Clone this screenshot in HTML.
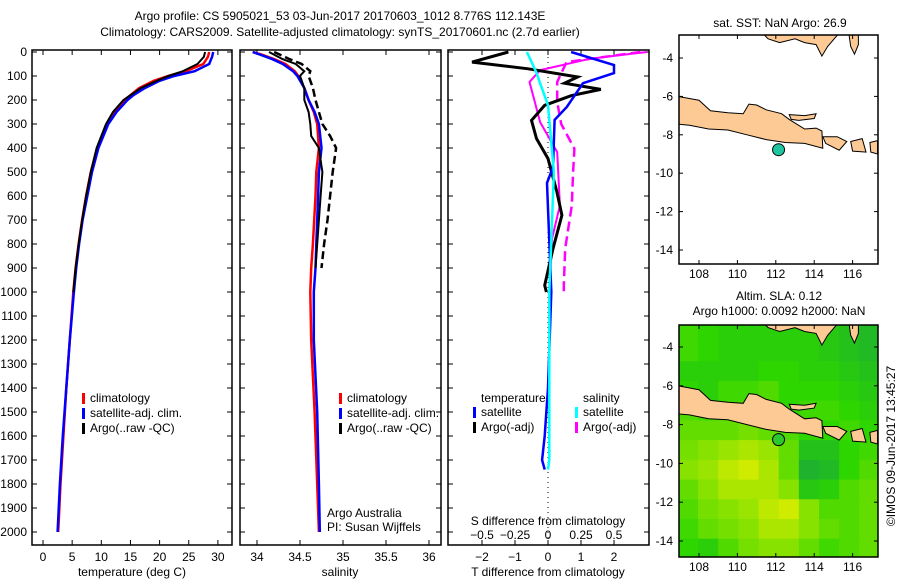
<!DOCTYPE html>
<html><head><meta charset="utf-8"><style>
body{margin:0;background:#fff;font-family:"Liberation Sans",sans-serif}
svg text{font-family:"Liberation Sans",sans-serif;font-size:12px;fill:#000}
</style></head><body>
<svg id="s" width="900" height="580" xmlns="http://www.w3.org/2000/svg">
<text x="340" y="20" text-anchor="middle">Argo profile: CS 5905021_53 03-Jun-2017 20170603_1012 8.776S 112.143E</text>
<text x="340" y="36" text-anchor="middle">Climatology: CARS2009. Satellite-adjusted climatology: synTS_20170601.nc (2.7d earlier)</text>
<g id="g"></g>
</svg>
<script>
// ---------- data ----------
const depthTicks=[0,100,200,300,400,500,600,700,800,900,1000,1100,1200,1300,1400,1500,1600,1700,1800,1900,2000];
const tempTicks=[0,5,10,15,20,25,30];
const salTicks=[34,34.5,35,35.5,36];
const tdiffTicks=[-2,-1,0,1,2];
const sdiffTicks=[-0.5,-0.25,0,0.25,0.5];
const tDepth=[0,20,50,80,100,120,150,180,200,250,300,400,500,600,700,800,900,1000,1200,1400,1600,1800,2000];
const tClim=[28.5,28.3,27.5,24.5,21.5,19,16.5,15,14,12.3,11,9.3,8.2,7.4,6.7,6.1,5.6,5.2,4.6,4,3.5,3,2.6];
const tSat=[29.2,29,28.5,26,22.5,20,17.5,15.5,14.5,12.6,11.2,9.5,8.4,7.6,6.8,6.2,5.7,5.3,4.6,4,3.4,2.9,2.5];
const tArgoDepth=[0,20,50,80,100,120,150,180,200,250,300,400,500,600,700,800,900,1000];
const tArgo=[27.8,27.6,26.5,24,21.5,19.5,16.8,15,13.8,12,10.8,9.2,8.2,7.4,6.7,6.1,5.6,5.2];
const sDepth=[0,10,30,50,80,100,150,200,250,300,400,500,600,800,900,1000,1200,1500,1800,2000];
const sClim=[33.95,34.05,34.2,34.33,34.44,34.48,34.55,34.6,34.66,34.7,34.72,34.69,34.68,34.65,34.63,34.62,34.63,34.67,34.7,34.72];
const sSat=[33.95,34.03,34.18,34.3,34.42,34.47,34.55,34.6,34.67,34.72,34.75,34.72,34.71,34.69,34.68,34.66,34.66,34.7,34.72,34.73];
const sArgoDepth=[0,30,50,80,100,150,200,250,300,350,400,450,500,600,700,800,900];
const sArgo=[34.14,34.3,34.45,34.55,34.5,34.55,34.55,34.6,34.62,34.63,34.72,34.74,34.76,34.74,34.72,34.7,34.68];
const sArgoRaw=[34.2,34.38,34.52,34.62,34.6,34.65,34.68,34.72,34.76,34.85,34.92,34.9,34.88,34.85,34.82,34.78,34.75];
const tsDepth=[0,54,88,130,229,283,479,546,1000,1400,1600,1700,1740];
const dTsat=[0.7,2.0,2.0,1.06,0.57,0.2,0.15,-0.03,0.1,0,-0.1,-0.18,-0.1];
const taDepth=[0,42,70,104,130,156,182,222,285,361,444,583,680,819,972,1000];
const dTargo=[-1.2,-2.3,-0.6,0.9,0.5,1.6,0.7,-0.1,-0.5,-0.35,0,0.27,0.42,0.15,-0.1,-0.05];
const csDepth=[0,83,222,500,1000,1400,1700,1740];
const dSsat=[-0.16,-0.09,0,0.045,0.01,0.01,0.01,0];
const saDepth=[0,28,76,125,208,292,417,639,778,917,1000];
const dSargo=[0.75,0.32,-0.06,-0.14,-0.1,-0.06,0.07,0.09,0.03,0.02,0.02];
const srDepth=[0,42,125,208,300,403,500,639,819,972,1000];
const dSargoRaw=[0.7,0.14,0.07,0.07,0.1,0.2,0.19,0.18,0.13,0.12,0.12];
const latTicks=[-4,-6,-8,-10,-12,-14];
const lonTicks=[108,110,112,114,116];
const argoLon=112.143, argoLat=-8.776;
const slaGrid=[
[0.1,0,-0.1,-0.1,-0.1,-0.1,-0.1,-0.2,-0.3,-0.4],
[0.1,0,-0.1,-0.1,-0.1,-0.1,-0.1,-0.2,-0.3,-0.4],
[-0.1,-0.1,-0.1,-0.1,0,0,-0.1,-0.1,-0.2,-0.3],
[0,-0.1,0.1,0.1,0.2,0,0,0,-0.1,-0.2],
[0.2,0.1,0.1,0.2,0.1,0,0.1,0.1,0,-0.1],
[0.3,0.3,0.3,0.4,0.3,0.2,0,0,0.1,0],
[0.4,0.5,0.6,0.7,0.6,0.3,-0.3,-0.3,0,0.1],
[0.5,0.6,0.8,0.9,0.7,0.3,-0.5,-0.4,0,0.2],
[0.3,0.5,0.7,0.7,0.7,0.5,-0.2,-0.1,0.2,0.3],
[0.2,0.4,0.5,0.6,0.8,0.9,0.5,0.2,0.2,0.3],
[0.1,0.3,0.4,0.5,0.7,0.7,0.5,0.3,0.2,0.3],
[0,-0.1,0.2,0.4,0.5,0.5,0.3,0.1,0.2,0.3]];
const java=[[106.9,-6.0],[108,-6.2],[108.6,-6.75],[109.5,-6.85],[110.3,-6.9],[110.6,-6.4],[111,-6.45],[111.5,-6.7],[112.3,-6.9],[112.7,-7.2],[113.5,-7.7],[114.1,-7.65],[114.4,-7.8],[114.45,-8.7],[113.5,-8.45],[112.5,-8.4],[111.5,-8.25],[110.5,-8.0],[109.5,-7.75],[108.5,-7.7],[107.5,-7.5],[106.9,-7.45]];
const madura=[[112.7,-6.95],[113.5,-7.0],[114.1,-6.9],[114.0,-7.15],[113.2,-7.25],[112.8,-7.2]];
const bali=[[114.45,-8.1],[115.2,-8.1],[115.7,-8.35],[115.3,-8.8],[114.6,-8.45]];
const lombok=[[115.9,-8.35],[116.5,-8.2],[116.7,-8.9],[116.0,-8.85]];
const sumbawa=[[116.9,-8.4],[117.3,-8.3],[117.3,-9.0],[116.95,-8.9]];
const borneo=[[111.3,-2.7],[111.6,-3.0],[112.2,-3.2],[113,-3.0],[113.5,-3.2],[114.1,-3.3],[114.4,-3.9],[114.7,-3.4],[115.3,-2.7]];
const borneo2=[[115.8,-2.7],[115.9,-3.4],[116.1,-3.8],[116.3,-3.3],[116.3,-2.7]];

// ---------- helpers ----------
const NS='http://www.w3.org/2000/svg', G=document.getElementById('g');
function el(t,a,p){const e=document.createElementNS(NS,t);for(const k in a)e.setAttribute(k,a[k]);(p||G).appendChild(e);return e;}
function txt(x,y,s,anchor,p){const e=el('text',{x:x,y:y,'text-anchor':anchor||'middle'},p);e.textContent=s;return e;}
const yD=d=>52+0.24*d;
const PB=545;
function frame(x0,x1,name){const r=el('rect',{x:x0,y:50,width:x1-x0,height:PB-50,fill:'none',stroke:'#000','stroke-width':1.5});

}
function ticksY(x0,x1){depthTicks.forEach(d=>{el('line',{x1:x0,x2:x0+5,y1:yD(d),y2:yD(d),stroke:'#000'});el('line',{x1:x1,x2:x1-5,y1:yD(d),y2:yD(d),stroke:'#000'});});}
function line(xs,ds,fx,color,name,dash,w){const pts=xs.map((v,i)=>fx(v).toFixed(1)+','+yD(ds[i]).toFixed(1)).join(' ');
const e=el('polyline',{points:pts,fill:'none',stroke:color,'stroke-width':w||2.5,'stroke-dasharray':dash||'none'});

}
function legend(x,y,color,label){el('rect',{x:x,y:y-9,width:3,height:11,fill:color});txt(x+8,y,label,'start');}

// ---------- panel 1: temperature ----------
const xT=v=>43+5.83*v;
frame(32,232,'temperature-panel');ticksY(32,232);
depthTicks.forEach(d=>{txt(27,yD(d)+4,String(d),'end');});
tempTicks.forEach(v=>{el('line',{x1:xT(v),x2:xT(v),y1:PB,y2:PB-5,stroke:'#000'});el('line',{x1:xT(v),x2:xT(v),y1:50,y2:55,stroke:'#000'});txt(xT(v),561,String(v));});
txt(132,576,'temperature (deg C)');
line(tClim,tDepth,xT,'#f00','temp-climatology-line');
line(tSat,tDepth,xT,'#00f','temp-satellite-line');
line(tArgo,tArgoDepth,xT,'#000','temp-argo-line',null,2);
legend(82,402,'#f00','climatology');legend(82,417,'#00f','satellite-adj. clim.');legend(82,432,'#000','Argo(..raw -QC)');

// ---------- panel 2: salinity ----------
const xS=v=>257+86*(v-34);
frame(240,441,'salinity-panel');ticksY(240,441);
salTicks.forEach(v=>{el('line',{x1:xS(v),x2:xS(v),y1:PB,y2:PB-5,stroke:'#000'});el('line',{x1:xS(v),x2:xS(v),y1:50,y2:55,stroke:'#000'});txt(xS(v),561,String(v));});
txt(340,576,'salinity');
line(sClim,sDepth,xS,'#f00','sal-climatology-line');
line(sSat,sDepth,xS,'#00f','sal-satellite-line');
line(sArgo,sArgoDepth,xS,'#000','sal-argo-line',null,2);
line(sArgoRaw,sArgoDepth,xS,'#000','sal-argo-raw-line','8,4');
legend(339,402,'#f00','climatology');legend(339,417,'#00f','satellite-adj. clim.');legend(339,432,'#000','Argo(..raw -QC)');
txt(327,517,'Argo Australia','start');txt(327,531,'PI: Susan Wijffels','start');

// ---------- panel 3: differences ----------
const xDT=v=>548+33*v, xDS=v=>548+132*v;
frame(448,649,'difference-panel');ticksY(448,649);
el('line',{x1:548,x2:548,y1:52,y2:PB,stroke:'#000','stroke-dasharray':'1,4'});
tdiffTicks.forEach(v=>{el('line',{x1:xDT(v),x2:xDT(v),y1:PB,y2:PB-5,stroke:'#000'});el('line',{x1:xDT(v),x2:xDT(v),y1:50,y2:55,stroke:'#000'});txt(xDT(v),561,String(v).replace('-','−'));});
sdiffTicks.forEach(v=>{txt(xDS(v),539,String(v).replace('-','−'));});
txt(548,525,'S difference from climatology');txt(548,576,'T difference from climatology');
line(dSargoRaw,srDepth,xDS,'#f0f','sdiff-argo-raw-line','10,5');
line(dSargo,saDepth,xDS,'#f0f','sdiff-argo-line',null,2);
line(dTargo,taDepth,xDT,'#000','tdiff-argo-line',null,3);
line(dTsat,tsDepth,xDT,'#00f','tdiff-satellite-line');
line(dSsat,csDepth,xDS,'#0ff','sdiff-satellite-line');
txt(481,402,'temperature','start');txt(583,402,'salinity','start');
legend(473,416,'#00f','satellite');legend(473,431,'#000','Argo(-adj)');
legend(575,416,'#0ff','satellite');legend(575,431,'#f0f','Argo(-adj)');

// ---------- maps ----------
function map(y0,y4,s,bot,name,heat){
 const x0=679,x1=878,lx=lon=>699+19.2*(lon-108);
 const ly=lat=>y4+s*(-4-lat);
 const g=el('g',{});
 
 
 const clip='c'+name;const cp=el('clipPath',{id:clip},g);el('rect',{x:x0,y:y0,width:x1-x0,height:bot-y0},cp);
 const inner=el('g',{'clip-path':'url(#'+clip+')'},g);
 if(heat){const nr=slaGrid.length,nc=slaGrid[0].length;const la0=-2.7,la1=-14.9,lo0=106.9,lo1=117.4;
  slaGrid.forEach((row,r)=>row.forEach((v,c)=>{
   const ya=ly(la0+(la1-la0)*r/nr),yb=ly(la0+(la1-la0)*(r+1)/nr),xa=lx(lo0+(lo1-lo0)*c/nc),xb=lx(lo0+(lo1-lo0)*(c+1)/nc);
   let R,Gc,B;if(v>=0){R=46+(225-46)*v;Gc=214+(238-214)*v;B=0;}else{const t=-v;R=46-30*t;Gc=214-70*t;B=90*t;}
   el('rect',{x:xa,y:ya,width:xb-xa+0.6,height:yb-ya+0.6,fill:`rgb(${R|0},${Gc|0},${B|0})`},inner);}));}
 [java,madura,bali,lombok,sumbawa,borneo,borneo2].forEach(poly=>{el('polygon',{points:poly.map(p=>lx(p[0]).toFixed(1)+','+ly(p[1]).toFixed(1)).join(' '),fill:'#fdc994',stroke:'#000','stroke-width':1},inner);});
 const dot=el('circle',{cx:lx(argoLon),cy:ly(argoLat),r:6,fill:heat?'#2ec82e':'#1fc4a0',stroke:'#000'},inner);
 
 
 el('rect',{x:x0,y:y0,width:x1-x0,height:bot-y0,fill:'none',stroke:'#000','stroke-width':1.5},g);
 latTicks.forEach(l=>{const y=ly(l);if(y<bot){el('line',{x1:x0,x2:x0+4,y1:y,y2:y,stroke:'#000'},g);el('line',{x1:x1,x2:x1-4,y1:y,y2:y,stroke:'#000'},g);txt(673,y+4,String(l),'end',g);}});
 lonTicks.forEach(l=>{const x=lx(l);el('line',{x1:x,x2:x,y1:bot,y2:bot-4,stroke:'#000'},g);el('line',{x1:x,x2:x,y1:y0,y2:y0+4,stroke:'#000'},g);txt(x,bot+14,String(l),'middle',g);});
}
map(35,58,19.2,264,'sst-map',false);
map(325,347,19.4,557,'sla-map',true);
txt(780,27,'sat. SST: NaN Argo: 26.9');
txt(779,300,'Altim. SLA: 0.12');
txt(779,315,'Argo h1000: 0.0092 h2000: NaN');
const st=txt(0,0,'©IMOS 09-Jun-2017 13:45:27');
st.setAttribute('transform','translate(895,446) rotate(-90)');


</script>
</body></html>
